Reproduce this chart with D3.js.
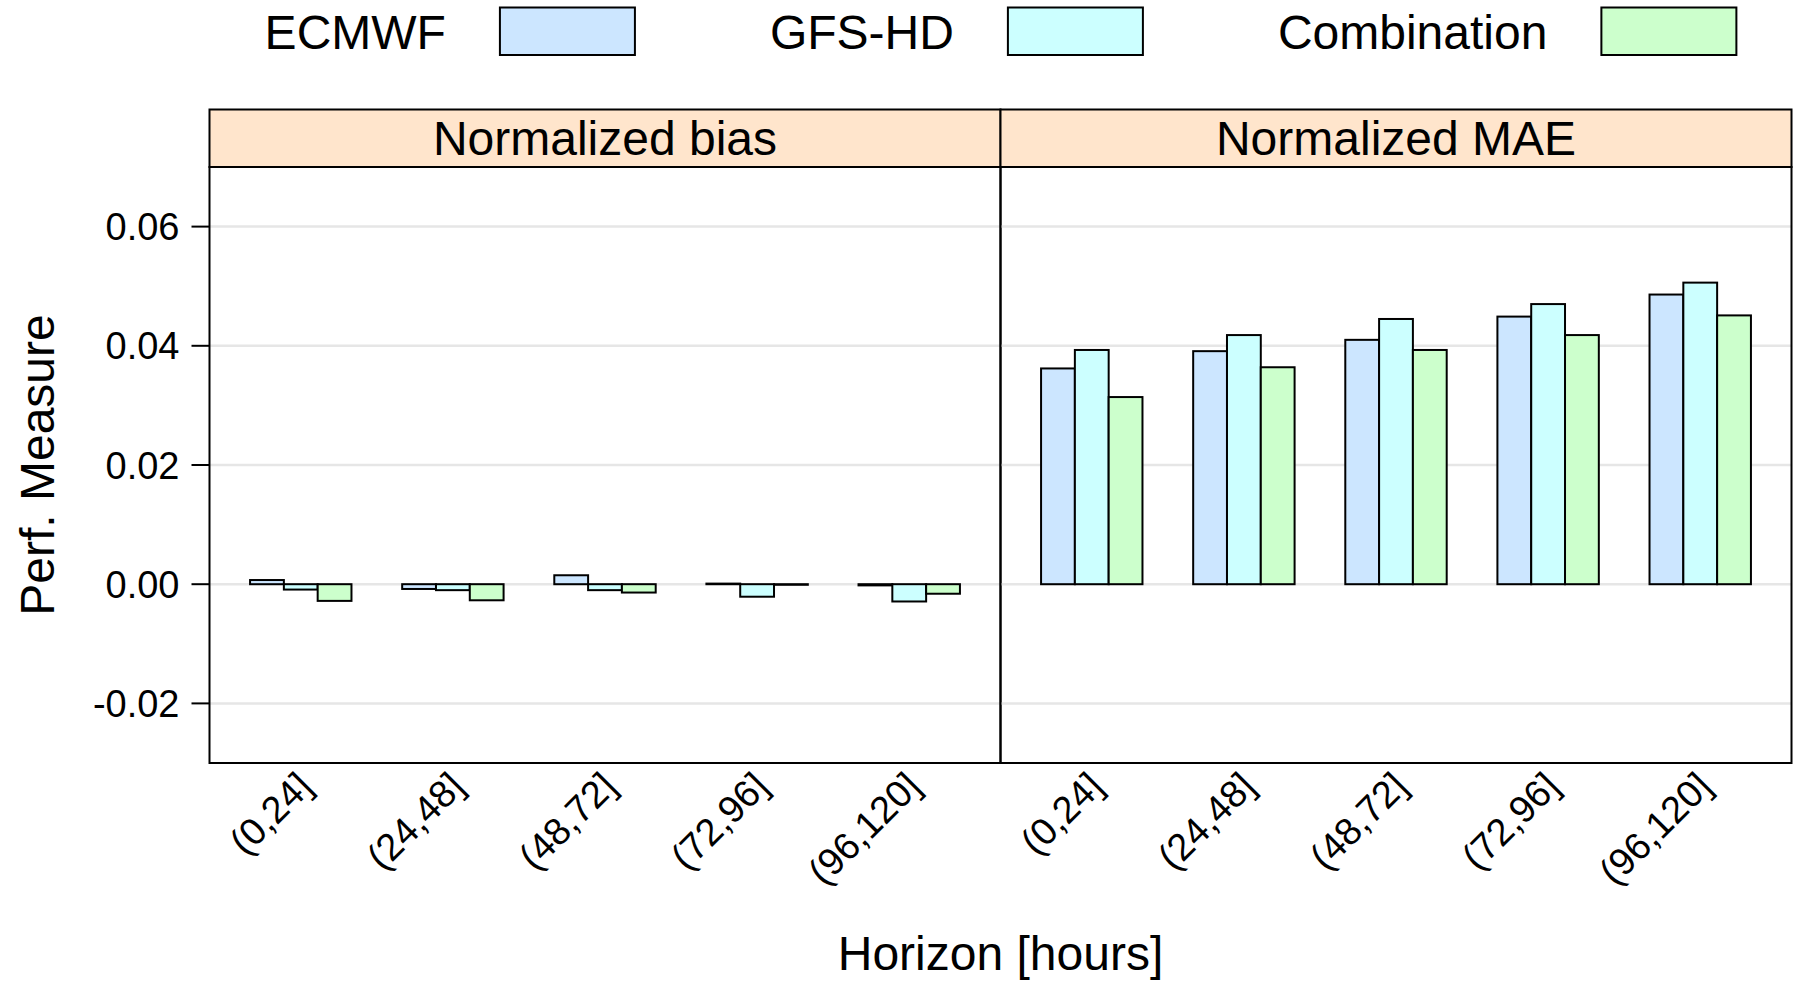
<!DOCTYPE html>
<html>
<head>
<meta charset="utf-8">
<script src="https://cdn.jsdelivr.net/npm/d3@7"></script>
<style>
  body { margin: 0; background: #fff; }
  svg { display: block; font-family: "Liberation Sans", Arial, Helvetica, sans-serif; }
</style>
</head>
<body>
<div id="chart"></div>
<script>
// 数据
const horizons = ["(0,24]", "(24,48]", "(48,72]", "(72,96]", "(96,120]"];
const models = ["ECMWF", "GFS-HD", "Combination"];
const modelColors = ["#CCE6FF", "#CCFFFF", "#CCFFCC"];
const panels = ["Normalized bias", "Normalized MAE"];

const biasECMWF = [0.0007, -0.0008, 0.0015, 0.0001, -0.0002];
const biasGFS = [-0.0009, -0.0010, -0.0010, -0.0021, -0.0029];
const biasComb = [-0.0028, -0.0027, -0.0014, -0.0001, -0.0016];

const maeECMWF = [0.0362, 0.0391, 0.0410, 0.0449, 0.0486];
const maeGFS = [0.0393, 0.0418, 0.0445, 0.0470, 0.0506];
const maeComb = [0.0314, 0.0364, 0.0393, 0.0418, 0.0451];

const yTicks = [-0.02, 0.00, 0.02, 0.04, 0.06];

const panelData = [
  [biasECMWF, biasGFS, biasComb],
  [maeECMWF, maeGFS, maeComb]
];

// 尺寸
const width = 1793, height = 982;
const plotLeft = 209.5, plotRight = 1791.5;
const stripTop = 109.5, stripBottom = 167, plotBottom = 763;
const panelW = (plotRight - plotLeft) / 2;

const svg = d3.select("#chart").append("svg")
  .attr("width", width)
  .attr("height", height);

svg.append("rect").attr("width", width).attr("height", height).attr("fill", "#fff");

const y = d3.scaleLinear().domain([-0.03, 0.07]).range([plotBottom, stripBottom]);

// 每个面板
panels.forEach((name, p) => {
  const x0 = plotLeft + p * panelW;
  const x = d3.scaleLinear().domain([0.4, 5.6]).range([x0, x0 + panelW]);
  const groupW = (x(2) - x(1)) * 2 / 3;
  const xm = d3.scaleBand().domain(models).range([-groupW / 2, groupW / 2]).padding(0);
  const g = svg.append("g");

  // 网格线
  g.selectAll("line.grid").data(yTicks).join("line")
    .attr("x1", x0).attr("x2", x0 + panelW)
    .attr("y1", d => y(d)).attr("y2", d => y(d))
    .attr("stroke", "#e6e6e6").attr("stroke-width", 2.5);

  // 柱子
  models.forEach((m, k) => {
    g.selectAll("rect.bar" + k).data(panelData[p][k]).join("rect")
      .attr("x", (d, i) => x(i + 1) + xm(m))
      .attr("width", xm.bandwidth())
      .attr("y", d => y(Math.max(0, d)))
      .attr("height", d => Math.abs(y(d) - y(0)))
      .attr("fill", modelColors[k])
      .attr("stroke", "#000").attr("stroke-width", 2);
  });

  // 标题条
  g.append("rect")
    .attr("x", x0).attr("y", stripTop)
    .attr("width", panelW).attr("height", stripBottom - stripTop)
    .attr("fill", "#FFE5CC").attr("stroke", "#000").attr("stroke-width", 2);
  g.append("text")
    .attr("x", x0 + panelW / 2).attr("y", stripBottom - 12)
    .attr("text-anchor", "middle").attr("font-size", 48)
    .text(name);

  // 面板边框
  g.append("rect")
    .attr("x", x0).attr("y", stripBottom)
    .attr("width", panelW).attr("height", plotBottom - stripBottom)
    .attr("fill", "none").attr("stroke", "#000").attr("stroke-width", 2);

  // x 轴标签 (旋转45度)
  g.selectAll("text.xlab").data(horizons).join("text")
    .attr("transform", (d, i) => `translate(${x(i + 1) + 4},${plotBottom + 16}) rotate(-45)`)
    .attr("text-anchor", "end")
    .attr("dy", "0.35em")
    .attr("font-size", 38)
    .text(d => d);
});

// y 轴
const yAxis = svg.append("g");
yAxis.selectAll("line").data(yTicks).join("line")
  .attr("x1", plotLeft - 18).attr("x2", plotLeft)
  .attr("y1", d => y(d)).attr("y2", d => y(d))
  .attr("stroke", "#000").attr("stroke-width", 2);
yAxis.selectAll("text").data(yTicks).join("text")
  .attr("x", plotLeft - 30).attr("y", d => y(d))
  .attr("dy", "0.36em")
  .attr("text-anchor", "end").attr("font-size", 38)
  .text(d => d3.format(".2f")(d).replace("−", "-"));

// 轴标题
svg.append("text")
  .attr("transform", `translate(54,${(stripBottom + plotBottom) / 2}) rotate(-90)`)
  .attr("text-anchor", "middle").attr("font-size", 48)
  .text("Perf. Measure");
svg.append("text")
  .attr("x", (plotLeft + plotRight) / 2).attr("y", 970)
  .attr("text-anchor", "middle").attr("font-size", 48)
  .text("Horizon [hours]");

// 图例
const legend = svg.append("g");
const textGap = 54, boxW = 135, colGap = 135;
let cx = 0;
const items = models.map((m, k) => {
  const t = legend.append("text").attr("y", 49).attr("font-size", 48).text(m);
  const w = t.node().getComputedTextLength();
  t.attr("x", cx);
  legend.append("rect")
    .attr("x", cx + w + textGap).attr("y", 7.5)
    .attr("width", boxW).attr("height", 47.5)
    .attr("fill", modelColors[k]).attr("stroke", "#000").attr("stroke-width", 2);
  cx += w + textGap + boxW + colGap;
  return w;
});
const legendW = cx - colGap;
legend.attr("transform", `translate(${(plotLeft + plotRight) / 2 - legendW / 2},0)`);
</script>
</body>
</html>
